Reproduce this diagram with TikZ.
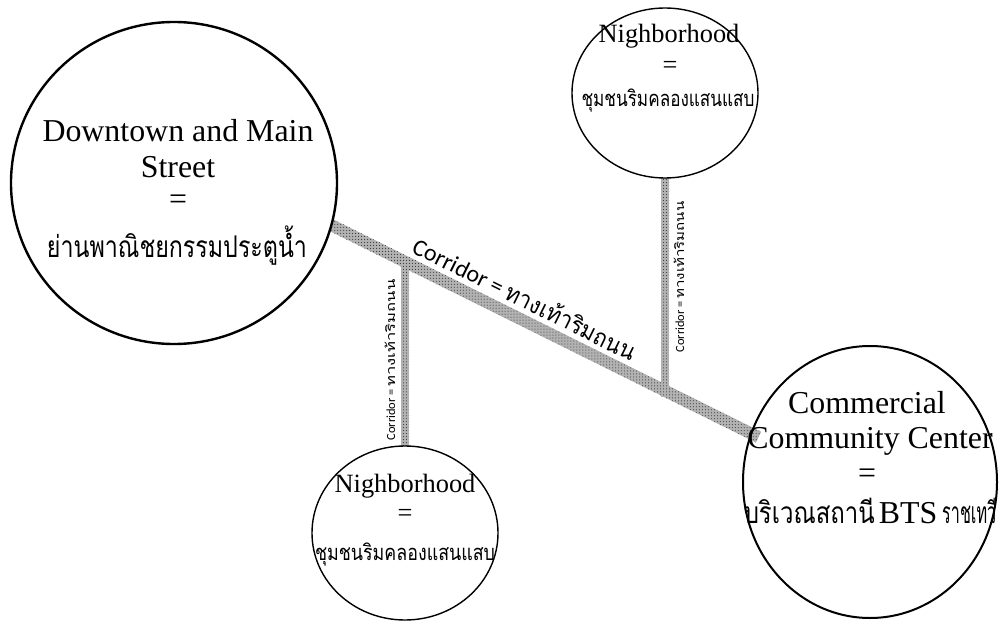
\documentclass[tikz,border=0pt]{standalone}
\usepackage{fontspec}
\usepackage{graphicx}
\setmainfont{Liberation Serif}
\newfontfamily\thai[Script=Thai]{Loma}
\newfontfamily\corrfont{Carlito}
\usetikzlibrary{shapes.geometric,patterns,calc,backgrounds}
\newcommand{\tw}[2]{\resizebox{#1}{\height}{\thai #2}}
\tikzset{
  place/.style={ellipse, inner sep=0pt, outer sep=0pt, draw=black},
  bigplace/.style={place, line width=2.4bp},
  smallplace/.style={place, line width=1.4bp},
  corridor/.style={preaction={fill=black!30}, pattern=dots, pattern color=black!85},
  lbl/.style={inner sep=0pt, anchor=base},
  bigtxt/.style={lbl, font=\fontsize{32}{38}\selectfont},
  smalltxt/.style={lbl, font=\fontsize{26.5}{30}\selectfont},
  corrtxt/.style={inner sep=0pt, font=\corrfont\fontsize{24}{28}\selectfont},
  vcorrtxt/.style={inner sep=0pt, rotate=90, font=\corrfont\fontsize{12.5}{14}\selectfont},
}
\begin{document}
\begin{tikzpicture}[x=1bp,y=-1bp]
\useasboundingbox (0,0) rectangle (1001,622);
% places
\node[bigplace, minimum width=326bp, minimum height=322bp] (dt) at (174,183) {};
\node[bigplace, line width=2bp, minimum width=254bp, minimum height=272bp] (cc) at (870,482) {};
\node[smallplace, minimum width=186bp, minimum height=170bp] (nt) at (665,93) {};
\node[smallplace, minimum width=186bp, minimum height=174bp] (nb) at (405,533) {};
% corridor ends
\coordinate (d1) at (dt.-15.8);
\coordinate (d2) at ($(cc.158.6)!-8bp!(dt)$);
\coordinate (ia) at (intersection of d1--d2 and nb.north--nb.south);
\coordinate (ib) at (intersection of d1--d2 and nt.north--nt.south);
\begin{scope}[on background layer]
  \path[corridor] ($(d1)!6bp!90:(d2)$) -- ($(d2)!6bp!-90:(d1)$) -- ($(d2)!6bp!90:(d1)$) -- ($(d1)!6bp!-90:(d2)$) -- cycle;
  \path[corridor] ($(ia)+(-4,0)$) rectangle ($(nb.north)+(4,0)$);
  \path[corridor] ($(nt.south)+(-4,0)$) rectangle ($(ib)+(4,6)$);
\end{scope}
% corridor labels
\path (d1) -- (d2) node[corrtxt, pos=.432, sloped, yshift=21bp] (dl) {Corridor = \tw{142bp}{ทางเท้าริมถนน}};
\node[vcorrtxt] (vl) at (390,360) {Corridor = \tw{107bp}{ทางเท้าริมถนน}};
\node[vcorrtxt] (vr) at (679,277) {Corridor = \tw{97bp}{ทางเท้าริมถนน}};
% texts big circle
\node[bigtxt] (dt1) at (178,142) {Downtown and Main};
\node[bigtxt] (dt2) at (178,178) {Street};
\node[bigtxt] (dt3) at (178,210) {=};
\node[bigtxt] (dt4) at (177,258) {\fontsize{30}{34}\selectfont\tw{260bp}{ย่านพาณิชยกรรมประตูน้ำ}};
% commercial
\node[bigtxt] (cc1) at (867,413) {Commercial};
\node[bigtxt] (cc2) at (870,448) {Community Center};
\node[bigtxt] (cc3) at (867,483) {=};
\node[bigtxt] (cc4) at (870,523) {\fontsize{30}{34}\selectfont\tw{131bp}{บริเวณสถานี}\hspace{4bp}{\fontsize{32}{38}\selectfont BTS}\hspace{5bp}\tw{54bp}{ราชเทวี}};
% top neighborhood
\node[smalltxt] (nt1) at (669,43) {Nighborhood};
\node[smalltxt] (nt2) at (670,74) {=};
\node[smalltxt] (nt3) at (668,107) {\fontsize{22}{26}\selectfont\tw{173bp}{ชุมชนริมคลองแสนแสบ}};
% bottom neighborhood
\node[smalltxt] (nb1) at (405,492) {Nighborhood};
\node[smalltxt] (nb2) at (405,521) {=};
\node[smalltxt] (nb3) at (405,560) {\fontsize{22}{26}\selectfont\tw{180bp}{ชุมชนริมคลองแสนแสบ}};
\end{tikzpicture}
\end{document}
